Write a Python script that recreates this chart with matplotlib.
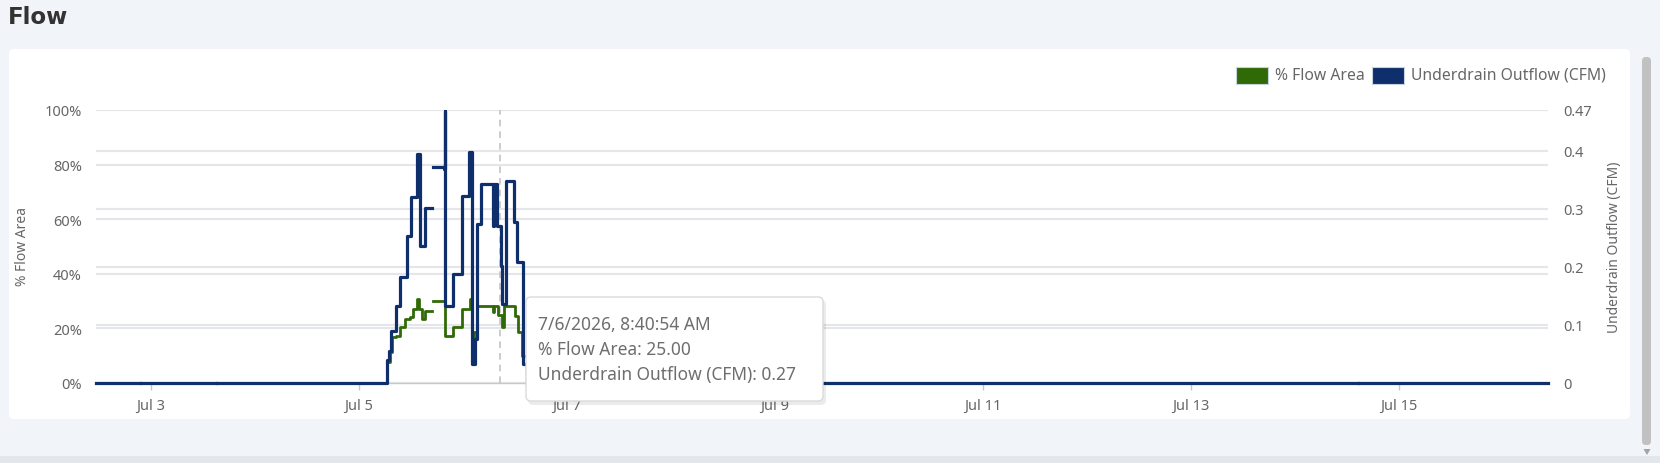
import numpy as np
import pandas as pd
import matplotlib
matplotlib.use("Agg")
import matplotlib.pyplot as plt
from matplotlib.patches import FancyBboxPatch, Rectangle, Polygon
from matplotlib.transforms import blended_transform_factory

plt.rcParams['font.family'] = ['Noto Sans', 'DejaVu Sans']

nan = np.nan

# Underdrain outflow (CFM), right axis
outflow_times = [
    "2026-07-02 11:24", "2026-07-02 21:30", "2026-07-02 21:45", "2026-07-03 15:10",
    "2026-07-03 15:25", "2026-07-05 06:36", "2026-07-05 07:07", "2026-07-05 07:34",
    "2026-07-05 08:32", "2026-07-05 09:32", "2026-07-05 11:05", "2026-07-05 12:08",
    "2026-07-05 13:23", "2026-07-05 14:16", "2026-07-05 15:18", "2026-07-05 16:51",
    "2026-07-05 17:13", "2026-07-05 19:40", "2026-07-05 19:55", "2026-07-05 20:02",
    "2026-07-05 21:41", "2026-07-05 23:55", "2026-07-06 01:27", "2026-07-06 02:13",
    "2026-07-06 02:50", "2026-07-06 03:14", "2026-07-06 04:09", "2026-07-06 06:55",
    "2026-07-06 07:17", "2026-07-06 07:59", "2026-07-06 08:48", "2026-07-06 09:08",
    "2026-07-06 09:55", "2026-07-06 11:55", "2026-07-06 12:36", "2026-07-06 13:51",
    "2026-07-06 14:50", "2026-07-14 14:40", "2026-07-14 14:55", "2026-07-16 10:30",
]
outflow_vals = [
    0, nan, 0, nan,
    0, 0.040, 0.055, 0.090,
    0.133, 0.182, 0.253, 0.320,
    0.394, 0.236, 0.302, nan,
    0.372, 0.368, 0.469, 0.133,
    0.188, 0.322, 0.397, 0.033,
    0.076, 0.274, 0.343, 0.270,
    0.343, 0.270, 0.202, 0.136,
    0.348, 0.277, 0.208, 0.033,
    0, nan, 0, 0,
]

# % Flow Area, left axis
area_times = [
    "2026-07-02 11:24", "2026-07-05 06:36", "2026-07-05 07:13", "2026-07-05 07:45",
    "2026-07-05 08:32", "2026-07-05 09:32", "2026-07-05 10:41", "2026-07-05 11:50",
    "2026-07-05 12:36", "2026-07-05 13:31", "2026-07-05 13:59", "2026-07-05 14:32",
    "2026-07-05 15:18", "2026-07-05 16:51", "2026-07-05 17:13", "2026-07-05 19:55",
    "2026-07-05 21:50", "2026-07-05 23:55", "2026-07-06 01:41", "2026-07-06 02:13",
    "2026-07-06 02:36", "2026-07-06 03:14", "2026-07-06 07:04", "2026-07-06 07:17",
    "2026-07-06 08:13", "2026-07-06 09:00", "2026-07-06 09:36", "2026-07-06 12:04",
    "2026-07-06 12:50", "2026-07-06 13:37", "2026-07-06 14:50", "2026-07-16 10:30",
]
area_vals = [
    0, 7.6, 11.2, 16.7,
    17.3, 20.4, 23.4, 24.1,
    27.1, 30.8, 27.1, 23.4,
    26.5, nan, 29.9, 17.3,
    20.4, 27.1, 30.8, 12.0,
    18.6, 28.1, 25.9, 28.1,
    25.0, 20.4, 28.1, 24.7,
    18.6, 10.0, 0, 0,
]

x_range = ["2026-07-02 11:24", "2026-07-16 10:30"]
tick_days = ["2026-07-03", "2026-07-05", "2026-07-07", "2026-07-09",
             "2026-07-11", "2026-07-13", "2026-07-15"]
tick_labels = ["Jul 3", "Jul 5", "Jul 7", "Jul 9", "Jul 11", "Jul 13", "Jul 15"]
left_ticks = [0, 20, 40, 60, 80, 100]
left_labels = ["0%", "20%", "40%", "60%", "80%", "100%"]
right_ticks = [0, 0.1, 0.2, 0.3, 0.4, 0.47]
right_labels = ["0", "0.1", "0.2", "0.3", "0.4", "0.47"]

tip_time = "2026-07-06 08:40:54"
tip_area = 25.00
tip_outflow = 0.27

green = "#2f6a06"
navy = "#0e2f6b"
grid_c = "#e4e6ea"
txt_c = "#666666"

W, H = 1660, 464
fig = plt.figure(figsize=(W / 100, H / 100), dpi=100, facecolor="#f1f4f8")
inch = fig.dpi_scale_trans


def box(x0, y0, x1, y1, **kw):
    # pixel box (top-left origin) -> inches
    return FancyBboxPatch((x0 / 100, (H - y1) / 100), (x1 - x0) / 100, (y1 - y0) / 100,
                          transform=inch, **kw)


fig.patches.append(box(9, 50, 1630, 420, boxstyle="round,pad=0,rounding_size=0.05",
                       fc="white", ec="none", zorder=-10))
fig.patches.append(Rectangle((0, 0), W / 100, 7 / 100, transform=inch, fc="#e3e6ea",
                             ec="none", zorder=-9))
fig.patches.append(box(1642, 58, 1651, 446, boxstyle="round,pad=0,rounding_size=0.04",
                       fc="#c1c1c1", ec="none", zorder=-9))
fig.patches.append(Polygon([(1643.5 / 100, (H - 450) / 100), (1650.5 / 100, (H - 450) / 100),
                            (1647 / 100, (H - 456) / 100)], closed=True, transform=inch,
                           fc="#a3a3a3", ec="none", zorder=-9))

fig.text(8 / W, 1 - 18 / H, "Flow", fontsize=16.5, fontweight="bold", color="#333333",
         va="center", ha="left", family=["DejaVu Sans"])

ax = fig.add_axes([96 / W, 1 - 384 / H, (1548 - 96) / W, (384 - 111) / H])
ax.set_facecolor("none")
ax2 = ax.twinx()

ot = pd.to_datetime(outflow_times)
at = pd.to_datetime(area_times)

ax.set_xlim(pd.to_datetime(x_range[0]), pd.to_datetime(x_range[1]))
ax.set_ylim(0, 100)
ax2.set_ylim(0, 0.47)

# grid lines for both axes, kept below the series
ax.set_yticks(left_ticks)
ax.set_yticklabels(left_labels)
ax.grid(axis="y", color=grid_c, lw=1.5, zorder=0)
ax.set_axisbelow(True)
tr = blended_transform_factory(ax.transAxes, ax2.transData)
for t in right_ticks:
    ax.plot([0, 1], [t, t], transform=tr, color=grid_c, lw=1.5, zorder=0.5)

ax.plot(at, area_vals, drawstyle="steps-post", color=green, lw=2.0, zorder=2,
        clip_on=False)
ax2.plot(ot, outflow_vals, drawstyle="steps-post", color=navy, lw=2.3, zorder=3,
         clip_on=False)

ax.axvline(pd.to_datetime(tip_time), color="#c4c4c4", lw=1.2, ls=(0, (4, 3)), zorder=1)

ax.set_xticks(pd.to_datetime(tick_days))
ax.set_xticklabels(tick_labels)
ax2.set_yticks(right_ticks)
ax2.set_yticklabels(right_labels)

for a in (ax, ax2):
    for s in a.spines.values():
        s.set_visible(False)
ax.spines["bottom"].set_visible(True)
ax.spines["bottom"].set_color("#c8c8c8")
ax.spines["bottom"].set_linewidth(1.0)

ax.tick_params(axis="x", length=5, width=1, color="#c8c8c8", labelsize=10.5,
               labelcolor=txt_c, pad=6)
ax.tick_params(axis="y", length=0, labelsize=10.5, labelcolor=txt_c, pad=10)
ax2.tick_params(axis="y", length=0, labelsize=10.5, labelcolor=txt_c, pad=11)

fig.text(22 / W, 1 - 247 / H, "% Flow Area", rotation=90, fontsize=10, color=txt_c,
         ha="center", va="center")
fig.text(1614 / W, 1 - 247 / H, "Underdrain Outflow (CFM)", rotation=90, fontsize=10,
         color=txt_c, ha="center", va="center")

# legend
legend_items = [("% Flow Area", green, 1236), ("Underdrain Outflow (CFM)", navy, 1372)]
for label, col, x0 in legend_items:
    fig.patches.append(Rectangle((x0 / 100, (H - 85) / 100), 32 / 100, 17 / 100,
                                 transform=inch, fc=col, ec="#c9d3e0", lw=0.8, zorder=5))
    fig.text((x0 + 39) / W, 1 - 76 / H, label, fontsize=11.3, color=txt_c,
             ha="left", va="center")

# tooltip
fig.patches.append(box(528, 301, 826, 406, boxstyle="round,pad=0,rounding_size=0.05",
                       fc="black", ec="none", alpha=0.08, zorder=20))
fig.patches.append(box(526, 298, 823, 402, boxstyle="round,pad=0,rounding_size=0.05",
                       fc="white", ec="#dadada", lw=1, zorder=21))
tt = pd.to_datetime(tip_time)
tip_lines = [
    f"{tt.month}/{tt.day}/{tt.year}, {tt.strftime('%I').lstrip('0')}:{tt.strftime('%M:%S %p')}",
    f"% Flow Area: {tip_area:.2f}",
    f"Underdrain Outflow (CFM): {tip_outflow:.2f}",
]
for i, line in enumerate(tip_lines):
    t = fig.text(538 / W, 1 - (325 + 25 * i) / H, line, fontsize=12.5, color="#6e6e6e",
                 ha="left", va="center")
    t.set_zorder(22)

fig.savefig("out.png", dpi=100, facecolor=fig.get_facecolor())
